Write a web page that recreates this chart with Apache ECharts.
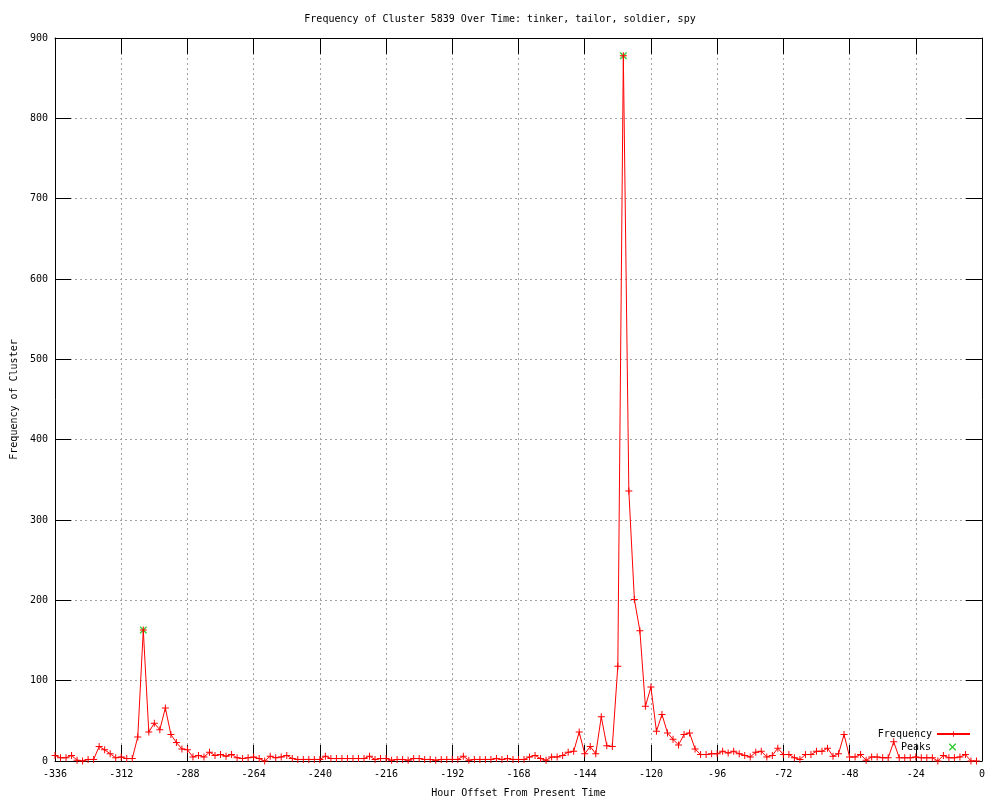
<!DOCTYPE html>
<html>
<head>
<meta charset="utf-8">
<script src="https://cdn.jsdelivr.net/npm/echarts@6/dist/echarts.min.js"></script>
<style>
html,body{margin:0;padding:0;background:#fff;}
#chart{width:1000px;height:800px;}
</style>
</head>
<body>
<div id="chart"></div>
<script>
// Hour offsets (x categories)
var hours = [-336,-334,-332,-330,-328,-326,-324,-322,-320,-318,-316,-314,-312,-310,-308,-306,-304,-302,-300,-298,
-296,-294,-292,-290,-288,-286,-284,-282,-280,-278,-276,-274,-272,-270,-268,-266,-264,-262,-260,-258,
-256,-254,-252,-250,-248,-246,-244,-242,-240,-238,-236,-234,-232,-230,-228,-226,-224,-222,-220,-218,
-216,-214,-212,-210,-208,-206,-204,-202,-200,-198,-196,-194,-192,-190,-188,-186,-184,-182,-180,-178,
-176,-174,-172,-170,-168,-166,-164,-162,-160,-158,-156,-154,-152,-150,-148,-146,-144,-142,-140,-138,
-136,-134,-132,-130,-128,-126,-124,-122,-120,-118,-116,-114,-112,-110,-108,-106,-104,-102,-100,-98,
-96,-94,-92,-90,-88,-86,-84,-82,-80,-78,-76,-74,-72,-70,-68,-66,-64,-62,-60,-58,
-56,-54,-52,-50,-48,-46,-44,-42,-40,-38,-36,-34,-32,-30,-28,-26,-24,-22,-20,-18,
-16,-14,-12,-10,-8,-6,-4,-2];

// Frequency values
var frequency = [7,4,4,7,1,0,2,2,18,14,9,4,5,3,3,30,163,36,47,39,
66,33,23,15,14,5,7,5,11,7,8,6,8,4,3,4,5,3,0,6,
4,5,7,3,2,2,2,2,2,6,3,3,3,3,3,3,3,6,2,3,
3,1,2,2,1,3,3,2,2,1,2,2,2,2,6,1,2,2,2,2,
3,2,3,2,2,2,5,7,3,1,5,5,7,11,12,36,9,18,9,55,
19,18,118,878,336,201,162,68,92,37,58,35,27,20,33,35,15,8,8,9,
9,12,10,12,9,7,5,11,12,5,7,16,8,8,4,2,8,8,12,12,
16,6,9,33,5,5,8,1,5,5,4,4,24,4,4,4,5,4,4,4,
0,7,4,4,5,8,0,0];

// Peak hours
var peakHours = [-304, -130];

// Axis tick settings
var xTicks = {min: -336, max: 0, interval: 24};
var yTicks = {min: 0, max: 900, interval: 100};

var freqData = hours.map(function (h, i) { return [h, frequency[i]]; });
var peakData = peakHours.map(function (h) { return [h, frequency[hours.indexOf(h)]]; });

var FONT = '"DejaVu Sans Mono", "Liberation Mono", monospace';
var crossPath = 'path://M0,3H7V4H0Z M3,0H4V7H3Z';
var xPath = 'path://M0,0L1,0L7,6L7,7L6,7L0,1Z M6,0L7,0L7,1L1,7L0,7L0,6Z';

var chart = echarts.init(document.getElementById('chart'), null, {renderer: 'canvas'});

var tickStyle = {show: true, inside: true, length: 16, lineStyle: {color: '#000', width: 1}};
var lineAxis = {show: true, onZero: false, lineStyle: {color: '#000', width: 1}};

chart.setOption({
  animation: false,
  backgroundColor: '#ffffff',
  title: {
    text: 'Frequency of Cluster 5839 Over Time: tinker, tailor, soldier, spy',
    left: 'center', top: 9,
    textStyle: {fontFamily: FONT, fontSize: 10, fontWeight: 'normal', color: '#000'}
  },
  legend: [{
    data: ['Frequency'], orient: 'vertical', align: 'right',
    right: 24, top: 724, itemWidth: 33, itemHeight: 7, itemGap: 4,
    textStyle: {fontFamily: FONT, fontSize: 10, color: '#000'}
  }, {
    data: ['Peaks'], orient: 'vertical', align: 'right',
    right: 39, top: 737, itemWidth: 33, itemHeight: 7, itemGap: 4,
    textStyle: {fontFamily: FONT, fontSize: 10, color: '#000'}
  }],
  grid: {left: 55, right: 18, top: 38, bottom: 39, containLabel: false, outerBoundsMode: 'none'},
  xAxis: [{
    type: 'value', min: xTicks.min, max: xTicks.max, interval: xTicks.interval,
    position: 'bottom',
    name: 'Hour Offset From Present Time', nameLocation: 'middle', nameGap: 27,
    nameTextStyle: {fontFamily: FONT, fontSize: 10, color: '#000'},
    axisLine: lineAxis, axisTick: tickStyle,
    axisLabel: {fontFamily: FONT, fontSize: 10, color: '#000', margin: 8, showMinLabel: true, showMaxLabel: true},
    splitLine: {show: true, lineStyle: {color: '#a0a0a0', type: [2, 3], width: 1}}
  }, {
    type: 'value', min: xTicks.min, max: xTicks.max, interval: xTicks.interval,
    position: 'top',
    axisLine: lineAxis, axisTick: tickStyle,
    axisLabel: {show: false}, splitLine: {show: false}
  }],
  yAxis: [{
    type: 'value', min: yTicks.min, max: yTicks.max, interval: yTicks.interval,
    position: 'left',
    name: 'Frequency of Cluster', nameLocation: 'middle', nameGap: 36, nameRotate: 90,
    nameTextStyle: {fontFamily: FONT, fontSize: 10, color: '#000'},
    axisLine: lineAxis, axisTick: tickStyle,
    axisLabel: {fontFamily: FONT, fontSize: 10, color: '#000', margin: 7},
    splitLine: {show: true, lineStyle: {color: '#a0a0a0', type: [2, 3], width: 1}}
  }, {
    type: 'value', min: yTicks.min, max: yTicks.max, interval: yTicks.interval,
    position: 'right',
    axisLine: lineAxis, axisTick: tickStyle,
    axisLabel: {show: false}, splitLine: {show: false}
  }],
  series: [{
    name: 'Peaks', type: 'scatter', xAxisIndex: 0, yAxisIndex: 0,
    data: peakData, symbol: xPath, symbolSize: 7,
    itemStyle: {color: '#00c000'}, z: 3
  }, {
    name: 'Frequency', type: 'line', xAxisIndex: 0, yAxisIndex: 0,
    data: freqData, symbol: crossPath, symbolSize: 7, showSymbol: true,
    showAllSymbol: true,
    lineStyle: {color: '#ff0000', width: 1},
    itemStyle: {color: '#ff0000'}, z: 4
  }]
});
</script>
</body>
</html>
